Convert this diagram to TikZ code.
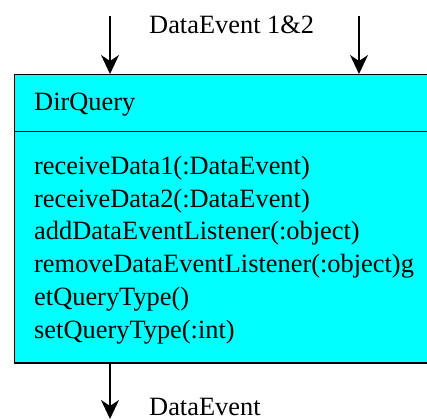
\documentclass[tikz,border=0pt]{standalone}
\usepackage{fontspec}
\setmainfont{Liberation Serif}
\usetikzlibrary{arrows.meta}
\definecolor{classfill}{HTML}{00FFFF}
\begin{document}
\begin{tikzpicture}[x=1pt,y=-1pt,
  txt/.style={inner sep=0pt,anchor=base west,font=\fontsize{26.4}{32.7}\selectfont},
  flow/.style={line width=1.5pt,-{Stealth[length=19pt,width=18pt,inset=6pt]}},
  classbox/.style={draw,line width=1.5pt,fill=classfill,rectangle,inner sep=0pt,
    anchor=north west,minimum width=440pt,minimum height=288pt}]
  \useasboundingbox (0,0) rectangle (427,419);
  \clip (0,0) rectangle (427,419);
  % class box with name and operation compartments
  \node[classbox] (cls) at (13.5,74) {};
  \coordinate (sep) at (13.5,131.5);
  \draw[line width=1.5pt] (sep) -- (sep -| cls.east);
  \node[txt] (name) at (34,111) {DirQuery};
  \foreach \t [count=\i] in {receiveData1(:DataEvent),receiveData2(:DataEvent),
      addDataEventListener(:object),removeDataEventListener(:object)g,
      etQueryType(),setQueryType(:int)}
    \node[txt] (op\i) at (34,{174.5+32.7*(\i-1)}) {\t};
  % incoming and outgoing events
  \coordinate (inA) at (110,16);
  \coordinate (inB) at (359,16);
  \coordinate (outA) at (110,419);
  \draw[flow] (inA) -- (inA |- cls.north);
  \draw[flow] (inB) -- (inB |- cls.north);
  \draw[flow] (inA |- cls.south) -- (outA);
  \node[txt] (inlabel) at (149,34) {DataEvent 1\&2};
  \node[txt] (outlabel) at (149,415.5) {DataEvent};
\end{tikzpicture}
\end{document}
